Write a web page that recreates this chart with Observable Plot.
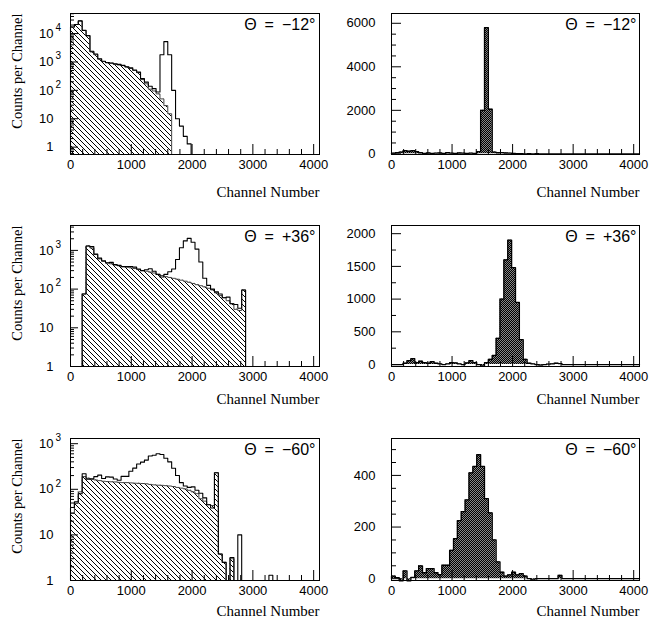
<!DOCTYPE html>
<html><head><meta charset="utf-8">
<script src="https://cdn.jsdelivr.net/npm/d3@7"></script>
<script src="https://cdn.jsdelivr.net/npm/@observablehq/plot@0.6"></script>
<style>
body{margin:0;background:#fff}
#fig{position:relative;width:653px;height:621px;overflow:hidden;background:#fff}
svg{overflow:visible}
</style></head><body><div id="fig"></div>
<script>
// ---------- data ----------
const binWidth = 64;          // channels per bin, bins start at channel 0
const channelMax = 4096;
const xMajorTicks = [0, 1000, 2000, 3000, 4000];
const xMinorTicks = [200, 400, 600, 800, 1200, 1400, 1600, 1800, 2200, 2400, 2600, 2800, 3200, 3400, 3600, 3800];
const angleLabels = ["Θ\u2002=\u2002−12°", "Θ\u2002=\u2002+36°", "Θ\u2002=\u2002−60°"];

// left column: total spectrum (outline) and background (hatched), counts per bin
const tlTotal = [17000, 21000, 28000, 13000, 8500, 2400, 1900, 1300, 1060, 960, 920, 860, 820, 760, 680, 620, 520, 440, 260, 195, 140, 115, 88, 1800, 5200, 1800, 100, 10, 5.5, 2.4, 1.3];
const tlBackground = [16900, 20900, 27900, 12850, 8380, 2250, 1800, 1250, 1030, 930, 900, 830, 780, 740, 660, 590, 500, 420, 240, 170, 110, 95, 75, 50, 29, 15];
const mlTotal = [0, 0, 0, 75, 1300, 1250, 800, 630, 540, 480, 490, 430, 410, 380, 380, 385, 370, 330, 300, 315, 335, 290, 240, 205, 240, 280, 330, 580, 1170, 1760, 2050, 1620, 1080, 500, 190, 125, 100, 85, 75, 60, 62, 42, 40, 32, 95];
const mlBackground = [0, 0, 0, 75, 1300, 1150, 780, 600, 520, 470, 450, 420, 400, 380, 370, 355, 340, 320, 300, 290, 275, 260, 240, 225, 210, 200, 190, 180, 170, 160, 150, 140, 130, 122, 114, 105, 95, 80, 68, 60, 50, 42, 30, 28, 95];
const blTotal = [40, 53, 80, 220, 167, 170, 190, 205, 173, 187, 185, 168, 158, 192, 192, 248, 291, 360, 394, 437, 538, 560, 603, 580, 480, 400, 290, 200, 140, 118, 110, 113, 95, 82, 65, 46, 39, 230, 3.8, 2.5, 0, 3.2, 0, 10, 0, 0, 0, 0, 0, 0, 0, 1.3];
const blBackground = [30, 49, 88, 190, 175, 165, 160, 155, 150, 148, 146, 145, 142, 140, 140, 138, 136, 135, 134, 132, 128, 125, 123, 122, 120, 118, 115, 110, 106, 102, 95, 88, 80, 62, 55, 46, 44, 230, 3.8, 2.5, 0, 3];

// right column: difference spectra, counts per bin
const trDiff = [30, 60, 80, 150, 120, 150, 100, 50, 20, 40, 20, 30, 40, 20, 50, 30, 20, 40, 30, 20, 30, 20, 100, 2000, 5800, 2050, 80, 50, 60, 40, 30, 20, 10, 10, 0, 10, 0, 5, 0, 0];
const mrDiff = [0, 0, 0, 20, 60, 90, 30, 50, 30, 20, 45, 20, 10, 0, 10, 30, 25, 10, 0, 25, 60, 30, 0, -20, 30, 80, 140, 400, 1000, 1600, 1900, 1480, 950, 380, 80, 20, 10, 0, -10, 0, 5, 10, 20, 15, 0];
const brDiff = [10, 4, -8, 30, -8, 5, 30, 50, 23, 39, 39, 23, 16, 52, 52, 110, 155, 225, 260, 305, 410, 435, 480, 435, 310, 255, 150, 65, 25, 10, 15, 25, 15, 20, 10, 0, -5, 0, 0, 0, 0, 0, 0, 13];

const logDecadesTop = [1, 10, 100, 1000, 10000];
const logDecades = [1, 10, 100, 1000];
const trTicks = [0, 2000, 4000, 6000];
const mrTicks = [0, 500, 1000, 1500, 2000];
const brTicks = [0, 200, 400];

// ---------- layout ----------
const cols = [{left: 0, width: 327, ml: 70, mr: 8}, {left: 327, width: 326, ml: 64, mr: 14}];
const rows = [
  {top: 0, height: 212, mt: 13, mb: 58, labelDy: 38},
  {top: 212, height: 212, mt: 13, mb: 58, labelDy: 33},
  {top: 424, height: 197, mt: 14, mb: 41, labelDy: 31}
];
const sansFont = "'Liberation Sans', Arial, Helvetica, sans-serif";
const serifFont = "'Liberation Serif', 'Times New Roman', serif";
const fig = document.getElementById("fig");

function histPoints(values, base) {
  const first = values.findIndex(v => v > 0);
  let last = values.length - 1;
  while (last >= 0 && !(values[last] > 0)) last--;
  const pts = [{x: first * binWidth, y: base, y0: base}];
  for (let i = first; i <= last; i++) pts.push({x: i * binWidth, y: values[i] > 0 ? values[i] : base, y0: base});
  pts.push({x: (last + 1) * binWidth, y: base, y0: base});
  return pts;
}
function diffPoints(values) {
  const pts = [{x: 0, y: 0}];
  values.forEach((v, i) => pts.push({x: i * binWidth, y: v}));
  pts.push({x: values.length * binWidth, y: 0});
  pts.push({x: channelMax, y: 0});
  return pts;
}

function xAxes() {
  return [
    Plot.axisX({ticks: xMinorTicks, tickSize: -5, tickFormat: () => "", label: null}),
    Plot.axisX({ticks: xMajorTicks, tickSize: -10, tickFormat: () => "", label: null}),
    Plot.axisX({ticks: xMajorTicks, tickSize: 0, tickPadding: 5, tickFormat: d => String(d), label: null})
  ];
}

function place(svg, col, row, defs) {
  d3.select(svg).insert("defs", ":first-child").html(defs);
  svg.style.position = "absolute";
  svg.style.left = col.left + "px";
  svg.style.top = row.top + "px";
  fig.appendChild(svg);
}

function logPanel(id, r, total, background, domain, decades, angle) {
  const col = cols[0], row = rows[r];
  const base = domain[0];
  const minor = [];
  for (const d of [decades[0] / 10, ...decades]) for (let k = 2; k <= 9; k++) {
    const v = k * d; if (v > domain[0] && v < domain[1]) minor.push(v);
  }
  const bgPts = histPoints(background, base);
  const totPts = histPoints(total, base);
  const svg = Plot.plot({
    width: col.width, height: row.height,
    marginLeft: col.ml, marginRight: col.mr, marginTop: row.mt, marginBottom: row.mb,
    style: `font-family:${sansFont};font-size:13px;overflow:visible;background:transparent`,
    x: {domain: [0, channelMax], label: null},
    y: {type: "log", domain, label: null},
    marks: [
      Plot.area(bgPts, {x1: "x", y1: "y0", y2: "y", curve: "step-after", fill: `url(#hatch-${id})`}),
      Plot.line(bgPts, {x: "x", y: "y", curve: "step-after", stroke: "#444", strokeWidth: 1}),
      Plot.line(totPts, {x: "x", y: "y", curve: "step-after", stroke: "#000", strokeWidth: 1.1}),
      ...xAxes(),
      Plot.axisY({ticks: minor, tickSize: -4, tickFormat: () => "", label: null}),
      Plot.axisY({ticks: decades, tickSize: -8, tickFormat: () => "", label: null}),
      Plot.text(decades, {y: d => d, text: d => d === 1 ? "1" : "10", frameAnchor: "left", dx: -17, textAnchor: "end"}),
      Plot.text(decades.filter(d => d >= 100), {y: d => d, text: d => String(Math.round(Math.log10(d))), frameAnchor: "left", dx: -15, dy: -6, textAnchor: "start", fontSize: 10}),
      Plot.frame({stroke: "#000"}),
      Plot.text([angle], {text: d => d, frameAnchor: "top-right", dx: -4, dy: 11, textAnchor: "end", lineAnchor: "middle", fontSize: 16}),
      Plot.text(["Channel Number"], {text: d => d, frameAnchor: "bottom-right", dy: row.labelDy, textAnchor: "end", lineAnchor: "middle", fontFamily: serifFont, fontSize: 15}),
      Plot.text(["Counts per Channel"], {text: d => d, frameAnchor: "top-left", dx: -53, rotate: -90, textAnchor: "end", lineAnchor: "middle", fontFamily: serifFont, fontSize: 14.5})
    ]
  });
  place(svg, col, row, `<pattern id="hatch-${id}" patternUnits="userSpaceOnUse" width="5" height="5"><path d="M-1,-1L6,6M-1,4L1,6M4,-1L6,1" stroke="#000" stroke-width="1" fill="none"/></pattern>`);
}

function linPanel(id, r, diff, domain, majors, minorStep, angle) {
  const col = cols[1], row = rows[r];
  const minor = d3.range(0, domain[1], minorStep).filter(v => !majors.includes(v));
  const pts = diffPoints(diff);
  const svg = Plot.plot({
    width: col.width, height: row.height,
    marginLeft: col.ml, marginRight: col.mr, marginTop: row.mt, marginBottom: row.mb,
    style: `font-family:${sansFont};font-size:13px;overflow:visible;background:transparent`,
    x: {domain: [0, channelMax], label: null},
    y: {domain, label: null},
    marks: [
      Plot.areaY(pts, {x: "x", y: "y", curve: "step-after", fill: `url(#stip-${id})`}),
      Plot.line(pts, {x: "x", y: "y", curve: "step-after", stroke: "#000", strokeWidth: 1.3}),
      ...xAxes(),
      Plot.axisY({ticks: minor, tickSize: -5, tickFormat: () => "", label: null}),
      Plot.axisY({ticks: majors, tickSize: -10, tickFormat: () => "", label: null}),
      Plot.axisY({ticks: majors, tickSize: 0, tickPadding: 16, tickFormat: d => String(d), label: null}),
      Plot.frame({stroke: "#000"}),
      Plot.text([angle], {text: d => d, frameAnchor: "top-right", dx: -3, dy: 11, textAnchor: "end", lineAnchor: "middle", fontSize: 16}),
      Plot.text(["Channel Number"], {text: d => d, frameAnchor: "bottom-right", dy: row.labelDy, textAnchor: "end", lineAnchor: "middle", fontFamily: serifFont, fontSize: 15})
    ]
  });
  place(svg, col, row, `<pattern id="stip-${id}" patternUnits="userSpaceOnUse" width="2" height="2"><rect width="2" height="2" fill="#888"/><rect width="1" height="1" fill="#000"/><rect x="1" y="1" width="1" height="1" fill="#000"/></pattern>`);
}

logPanel("tl", 0, tlTotal, tlBackground, [0.55, 51000], logDecadesTop, angleLabels[0]);
linPanel("tr", 0, trDiff, [-30, 6450], trTicks, 500, angleLabels[0]);
logPanel("ml", 1, mlTotal, mlBackground, [1, 4400], logDecades, angleLabels[1]);
linPanel("mr", 1, mrDiff, [-30, 2125], mrTicks, 250, angleLabels[1]);
logPanel("bl", 2, blTotal, blBackground, [1, 1300], logDecades, angleLabels[2]);
linPanel("br", 2, brDiff, [-7, 543], brTicks, 50, angleLabels[2]);
</script></body></html>
